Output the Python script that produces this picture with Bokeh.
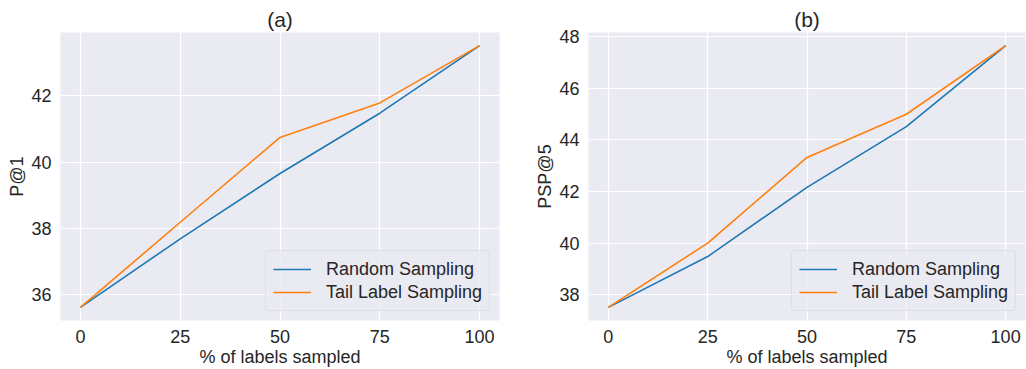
from bokeh.plotting import figure
from bokeh.layouts import row
from bokeh.models import Range1d, FixedTicker, Legend, LegendItem
from bokeh.embed import file_html
from bokeh.resources import INLINE

pct = [0, 25, 50, 75, 100]
p1_random = [35.62, 37.69, 39.66, 41.48, 43.52]
p1_tail = [35.62, 38.19, 40.75, 41.79, 43.52]
psp5_random = [37.51, 39.48, 42.16, 44.51, 47.65]
psp5_tail = [37.51, 40.00, 43.32, 44.99, 47.65]
x_ticks = [0, 25, 50, 75, 100]
y_ticks_a = [36, 38, 40, 42]
y_ticks_b = [38, 40, 42, 44, 46, 48]
series_names = ["Random Sampling", "Tail Label Sampling"]
colors = ["#1f77b4", "#ff7f0e"]

FONT = "Liberation Sans"
TXT = "#262626"


def make(title, ylabel, ys, yticks, width, mb_left, mb_right, lab_standoff):
    allv = ys[0] + ys[1]
    lo, hi = min(allv), max(allv)
    m = (hi - lo) * 0.05
    p = figure(width=width, height=369, output_backend="svg", toolbar_location=None,
               x_range=Range1d(-5, 105), y_range=Range1d(lo - m, hi + m),
               min_border_left=mb_left, min_border_right=mb_right,
               min_border_top=32, min_border_bottom=49)
    p.background_fill_color = "#eaeaf2"
    p.border_fill_color = "white"
    p.outline_line_color = None
    p.title.text = title
    p.title.align = "center"
    p.title.text_font = FONT
    p.title.text_font_size = "21px"
    p.title.text_font_style = "normal"
    p.title.text_color = TXT
    p.title.standoff = 3
    for ax in (p.xaxis[0], p.yaxis[0]):
        ax.axis_line_color = None
        ax.major_tick_line_color = None
        ax.minor_tick_line_color = None
        ax.major_tick_out = 0
        ax.major_tick_in = 0
        ax.major_label_text_font = FONT
        ax.major_label_text_font_size = "18px"
        ax.major_label_text_color = TXT
        ax.axis_label_text_font = FONT
        ax.axis_label_text_font_size = "18px"
        ax.axis_label_text_font_style = "normal"
        ax.axis_label_text_color = TXT
    p.xaxis[0].ticker = FixedTicker(ticks=x_ticks)
    p.yaxis[0].ticker = FixedTicker(ticks=yticks)
    p.xaxis[0].axis_label = "% of labels sampled"
    p.yaxis[0].axis_label = ylabel
    p.xaxis[0].major_label_standoff = 9
    p.xaxis[0].axis_label_standoff = 1
    p.yaxis[0].major_label_standoff = 9
    p.yaxis[0].axis_label_standoff = lab_standoff
    for g in (p.xgrid[0], p.ygrid[0]):
        g.grid_line_color = "white"
        g.grid_line_width = 1.2
    items = []
    for name, yv, c in zip(series_names, ys, colors):
        r = p.line(pct, yv, line_color=c, line_width=1.6)
        items.append(LegendItem(label=name, renderers=[r]))
    leg = Legend(items=items, location="bottom_right", margin=9, padding=7,
                 spacing=1, glyph_width=38, glyph_height=22, label_height=22,
                 label_standoff=15, label_text_font=FONT, label_text_font_size="18px",
                 label_text_color=TXT, background_fill_color="#eaeaf2",
                 background_fill_alpha=0.8, border_line_color="#d2d2d8",
                 border_line_width=1, border_radius=4)
    p.add_layout(leg)
    return p


p1 = make("(a)", "P@1", [p1_random, p1_tail], y_ticks_a, 513, 60, 14, 1)
p2 = make("(b)", "PSP@5", [psp5_random, psp5_tail], y_ticks_b, 513, 75, 1, 1)

layout = row(p1, p2)
open("out.html", "w").write(file_html(layout, INLINE))
